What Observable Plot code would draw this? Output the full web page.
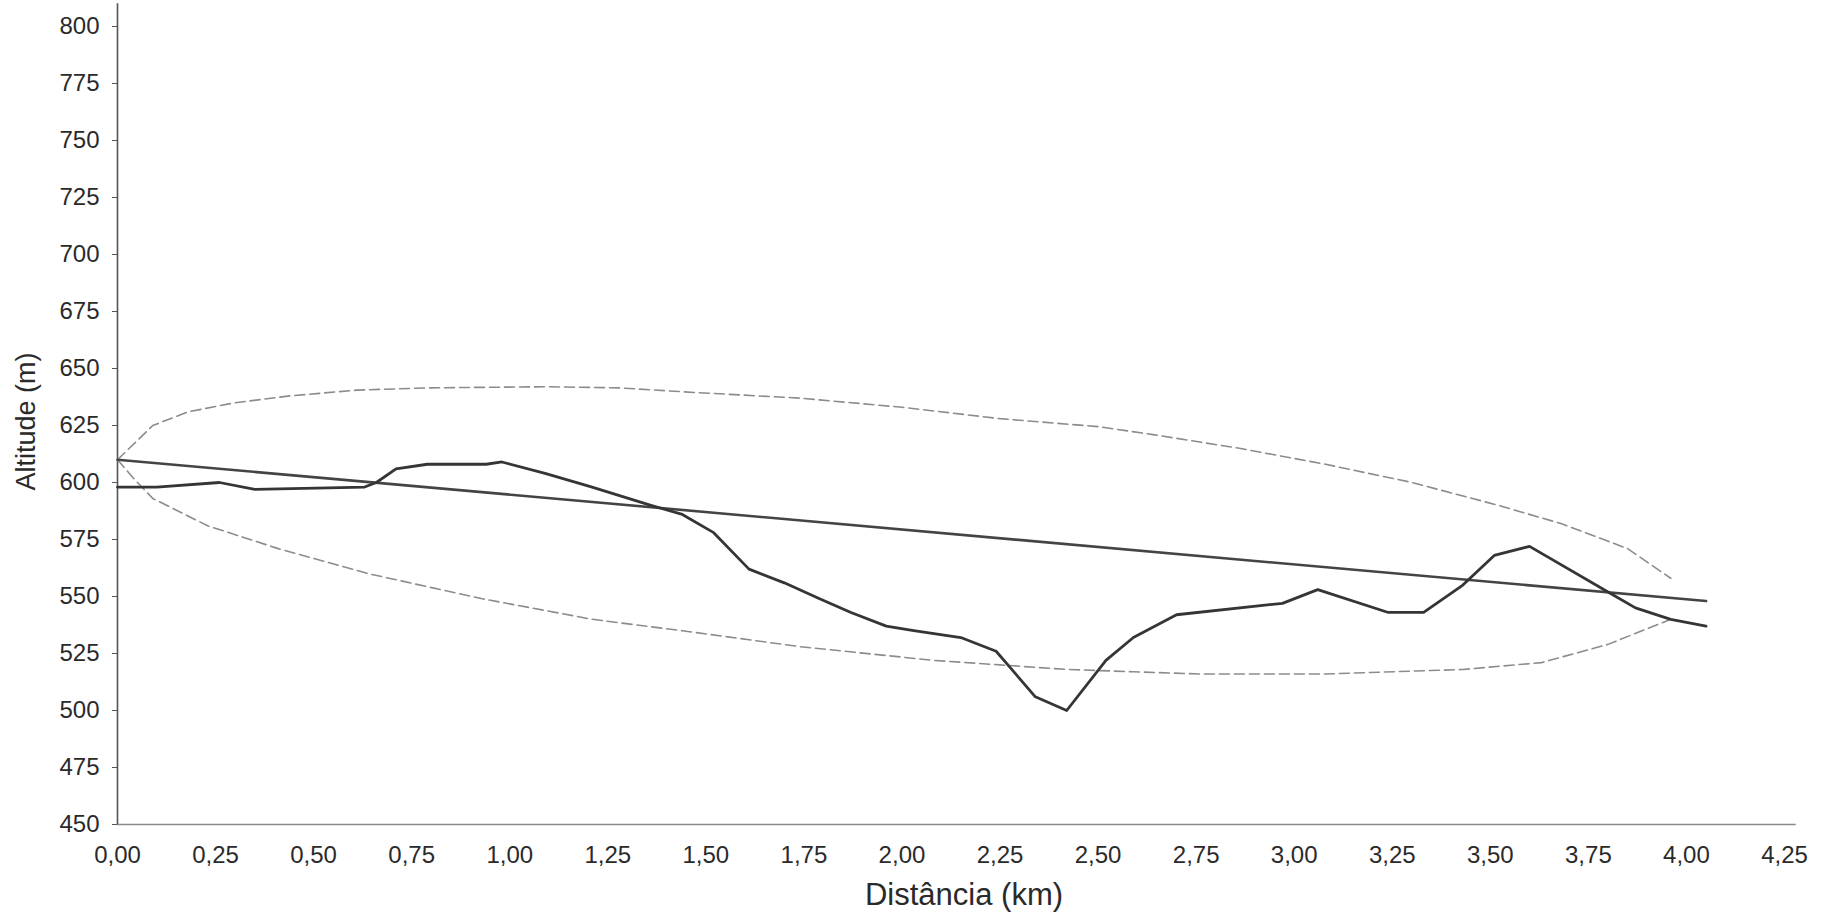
<!DOCTYPE html>
<html>
<head>
<meta charset="utf-8">
<script src="https://cdn.jsdelivr.net/npm/d3@7"></script>
<script src="https://cdn.jsdelivr.net/npm/@observablehq/plot@0.6"></script>
<style>
  html, body { margin: 0; padding: 0; background: #fff; overflow: hidden; }
</style>
</head>
<body>
<div id="chart"></div>
<script>
// Terrain profile (distance in km, altitude in m)
const profileDist = [0, 0.10, 0.26, 0.35, 0.63, 0.66, 0.71, 0.79, 0.94, 0.98, 1.09, 1.21, 1.36, 1.44, 1.52, 1.61, 1.70, 1.79, 1.87, 1.96, 2.03, 2.15, 2.24, 2.27, 2.34, 2.42, 2.52, 2.59, 2.70, 2.97, 3.06, 3.24, 3.33, 3.43, 3.51, 3.60, 3.81, 3.87, 3.96, 4.05];
const profileAlt  = [598, 598, 600, 597, 598, 600, 606, 608, 608, 609, 604, 598, 590, 586, 578, 562, 556, 549, 543, 537, 535, 532, 526, 520, 506, 500, 522, 532, 542, 547, 553, 543, 543, 555, 568, 572, 551, 545, 540, 537];

// Trend line
const trendDist = [0, 4.05];
const trendAlt  = [610, 548];

// Ellipse: upper branch
const upperDist = [0, 0.09, 0.18, 0.30, 0.44, 0.61, 0.79, 1.09, 1.28, 1.47, 1.74, 2.00, 2.25, 2.50, 2.64, 2.86, 3.08, 3.30, 3.52, 3.68, 3.85, 3.96];
const upperAlt  = [610, 625, 631, 635, 638, 640.5, 641.5, 642, 641.5, 639.5, 637, 633, 628, 624.5, 621, 615, 608, 600, 590, 582, 571, 558];

// Ellipse: lower branch
const lowerDist = [0, 0.04, 0.09, 0.23, 0.41, 0.64, 0.93, 1.21, 1.44, 1.74, 2.08, 2.25, 2.42, 2.59, 2.76, 3.08, 3.43, 3.63, 3.80, 3.96];
const lowerAlt  = [610, 602, 593, 581, 571, 560, 549, 540, 535, 528, 522, 520, 518, 517, 516, 516, 518, 521, 529, 540];

// Axis ticks and titles
const xTicks = [0, 0.25, 0.5, 0.75, 1, 1.25, 1.5, 1.75, 2, 2.25, 2.5, 2.75, 3, 3.25, 3.5, 3.75, 4, 4.25];
const yTicks = [450, 475, 500, 525, 550, 575, 600, 625, 650, 675, 700, 725, 750, 775, 800];
const xTitle = "Distância (km)";
const yTitle = "Altitude (m)";

const toRows = (xs, ys) => xs.map((d, i) => ({d, alt: ys[i]}));
const profile = toRows(profileDist, profileAlt);
const trend = toRows(trendDist, trendAlt);
const upper = toRows(upperDist, upperAlt);
const lower = toRows(lowerDist, lowerAlt);

const fmt = d => d.toFixed(2).replace(".", ",");

const chart = Plot.plot({
  width: 1829,
  height: 912,
  marginLeft: 117,
  marginRight: 45,
  marginTop: 26,
  marginBottom: 88,
  x: {domain: [0, 4.25]},
  y: {domain: [450, 800]},
  style: {
    fontFamily: "'Liberation Sans', Arial, sans-serif",
    color: "#2a2a2a",
    background: "#ffffff",
    overflow: "visible"
  },
  marks: [
    // axis lines
    Plot.ruleY([450], {x1: 0, x2: 4.28, stroke: "#8a8a8a", strokeWidth: 1.6}),
    Plot.ruleX([0], {y1: 450, y2: 810, stroke: "#555", strokeWidth: 1.6}),
    Plot.axisY(yTicks, {tickSize: 5, tickPadding: 13, fontSize: 24, label: null, stroke: "#555"}),
    Plot.axisX(xTicks, {tickSize: 0, tickPadding: 21, fontSize: 24, label: null, tickFormat: fmt}),
    // ellipse
    Plot.line(upper, {x: "d", y: "alt", stroke: "#8c8c8c", strokeWidth: 1.6, strokeDasharray: "10,5"}),
    Plot.line(lower, {x: "d", y: "alt", stroke: "#8c8c8c", strokeWidth: 1.6, strokeDasharray: "10,5"}),
    // trend line
    Plot.line(trend, {x: "d", y: "alt", stroke: "#444", strokeWidth: 2.6}),
    // profile
    Plot.line(profile, {x: "d", y: "alt", stroke: "#353535", strokeWidth: 2.8}),
    // titles
    Plot.text([xTitle], {frameAnchor: "bottom", textAnchor: "middle", lineAnchor: "middle", dx: 13, dy: 71, fontSize: 31, fill: "#2a2a2a"}),
    Plot.text([yTitle], {frameAnchor: "left", textAnchor: "middle", lineAnchor: "middle", rotate: -90, dx: -91, dy: -4, fontSize: 27, fill: "#2a2a2a"})
  ]
});

document.getElementById("chart").appendChild(chart);
</script>
</body>
</html>
